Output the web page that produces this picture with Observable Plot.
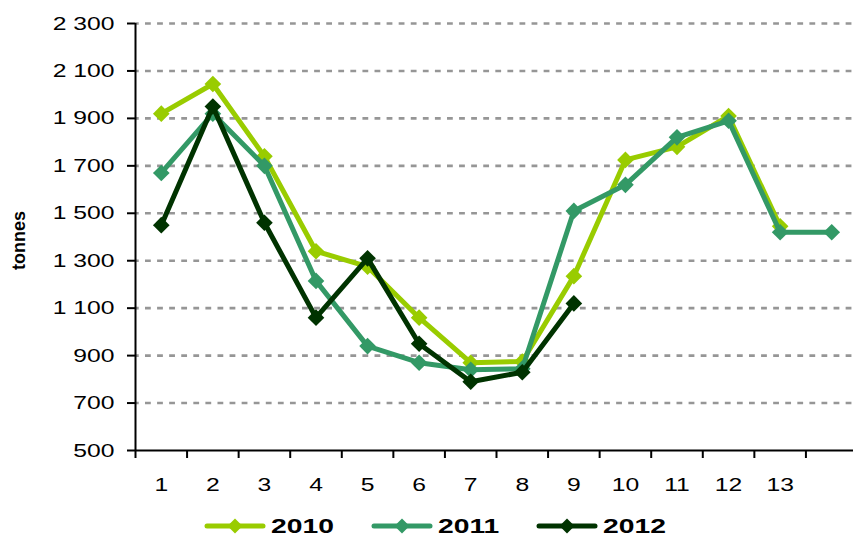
<!DOCTYPE html>
<html>
<head>
<meta charset="utf-8">
<script src="https://cdn.jsdelivr.net/npm/d3@7"></script>
<script src="https://cdn.jsdelivr.net/npm/@observablehq/plot@0.6"></script>
<style>
  body { margin: 0; background: #fff; font-family: "Liberation Sans", Arial, sans-serif; }
  #wrap { position: relative; width: 853px; height: 540px; overflow: hidden; }
  .sw { position: absolute; top: 518px; }
  .lt { position: absolute; top: 514px; font-weight: bold; font-size: 19.5px; line-height: 24px;
        transform: scaleX(1.45); transform-origin: left center; color: #000; }
</style>
</head>
<body>
<div id="wrap"></div>
<script>
// ---- data ----
const months = [1, 2, 3, 4, 5, 6, 7, 8, 9, 10, 11, 12, 13, 14];
const tickLabels = ["1", "2", "3", "4", "5", "6", "7", "8", "9", "10", "11", "12", "13"];
const years = ["2010", "2011", "2012"];
const colors = ["#99CC00", "#339966", "#003300"];
const v2010 = [1920, 2045, 1740, 1340, 1275, 1060, 870, 875, 1235, 1725, 1780, 1910, 1445];
const v2011 = [1670, 1920, 1700, 1215, 940, 870, 840, 845, 1510, 1620, 1820, 1890, 1420, 1420];
const v2012 = [1450, 1950, 1460, 1060, 1310, 950, 790, 830, 1120];
const yTicks = [500, 700, 900, 1100, 1300, 1500, 1700, 1900, 2100, 2300];
const yLabel = "tonnes";

const series = [v2010, v2011, v2012].map((vals, i) =>
  vals.map((v, j) => ({ year: years[i], month: months[j], value: v })));

const fmt = v => d3.format(",")(v).replace(/,/g, " ");
const boundaries = months.map(m => m - 0.5).concat([months.length + 0.5]);

const seriesMarks = series.flatMap((rows, i) => [
  Plot.line(rows, { x: "month", y: "value", stroke: colors[i], strokeWidth: 5,
    strokeLinejoin: "round", strokeLinecap: "round" }),
  Plot.dot(rows, { x: "month", y: "value", fill: colors[i], symbol: "diamond2", r: 7.5, stroke: "none" })
]);

const chart = Plot.plot({
  width: 853,
  height: 505,
  marginLeft: 135,
  marginRight: -4,
  marginTop: 23,
  marginBottom: 55,
  style: { fontFamily: '"Liberation Sans", Arial, sans-serif', fontSize: "19px", color: "#000",
           background: "transparent", overflow: "visible" },
  x: { domain: [0.5, months.length + 0.5], axis: null },
  y: { domain: [500, 2300], axis: null },
  marks: [
    Plot.ruleY(yTicks.slice(1), { stroke: "#969696", strokeWidth: 2.6,
      strokeDasharray: "5.8,6.28", strokeDashoffset: 2.08 }),
    Plot.axisY({ ticks: yTicks, tickFormat: fmt, tickSize: 8, tickPadding: 13, label: null,
      strokeWidth: 2, stroke: "#000", fill: "#000" }),
    Plot.axisX({ ticks: boundaries, tickSize: 8, tickFormat: () => "", label: null,
      strokeWidth: 2, stroke: "#000" }),
    Plot.axisX({ ticks: months.slice(0, tickLabels.length), tickSize: 0, tickPadding: 27, label: null,
      tickFormat: d => tickLabels[d - 1], fill: "#000" }),
    Plot.ruleY([500], { stroke: "#000", strokeWidth: 2 }),
    Plot.ruleX([0.5], { stroke: "#000", strokeWidth: 2 }),
    ...seriesMarks,
    Plot.text([yLabel], { frameAnchor: "left", textAnchor: "middle", text: d => d, dx: -116, dy: 3.5,
      rotate: -90, fontWeight: "bold", fontSize: 18, fill: "#000" })
  ]
});

// stretch tick labels horizontally like the reference
chart.querySelectorAll('g[aria-label$="tick label"] text').forEach(el => {
  const t = el.getAttribute("transform") || "";
  el.setAttribute("transform", t + " scale(1.3,1)");
});

const wrap = document.getElementById("wrap");
wrap.appendChild(chart);

// legend
const legLeft = [205, 372, 537];
years.forEach((yr, i) => {
  const ns = "http://www.w3.org/2000/svg";
  const s = document.createElementNS(ns, "svg");
  s.setAttribute("width", 62); s.setAttribute("height", 16);
  s.setAttribute("class", "sw");
  s.style.left = (legLeft[i] - 1) + "px";
  const ln = document.createElementNS(ns, "line");
  ln.setAttribute("x1", 3); ln.setAttribute("x2", 59); ln.setAttribute("y1", 8); ln.setAttribute("y2", 8);
  ln.setAttribute("stroke", colors[i]); ln.setAttribute("stroke-width", 5); ln.setAttribute("stroke-linecap", "round");
  const dm = document.createElementNS(ns, "path");
  dm.setAttribute("d", "M31,0.5L38.5,8L31,15.5L23.5,8Z");
  dm.setAttribute("fill", colors[i]);
  s.appendChild(ln); s.appendChild(dm);
  wrap.appendChild(s);
  const t = document.createElement("div");
  t.className = "lt";
  t.style.left = (legLeft[i] + 66) + "px";
  t.textContent = yr;
  wrap.appendChild(t);
});
</script>
</body>
</html>
